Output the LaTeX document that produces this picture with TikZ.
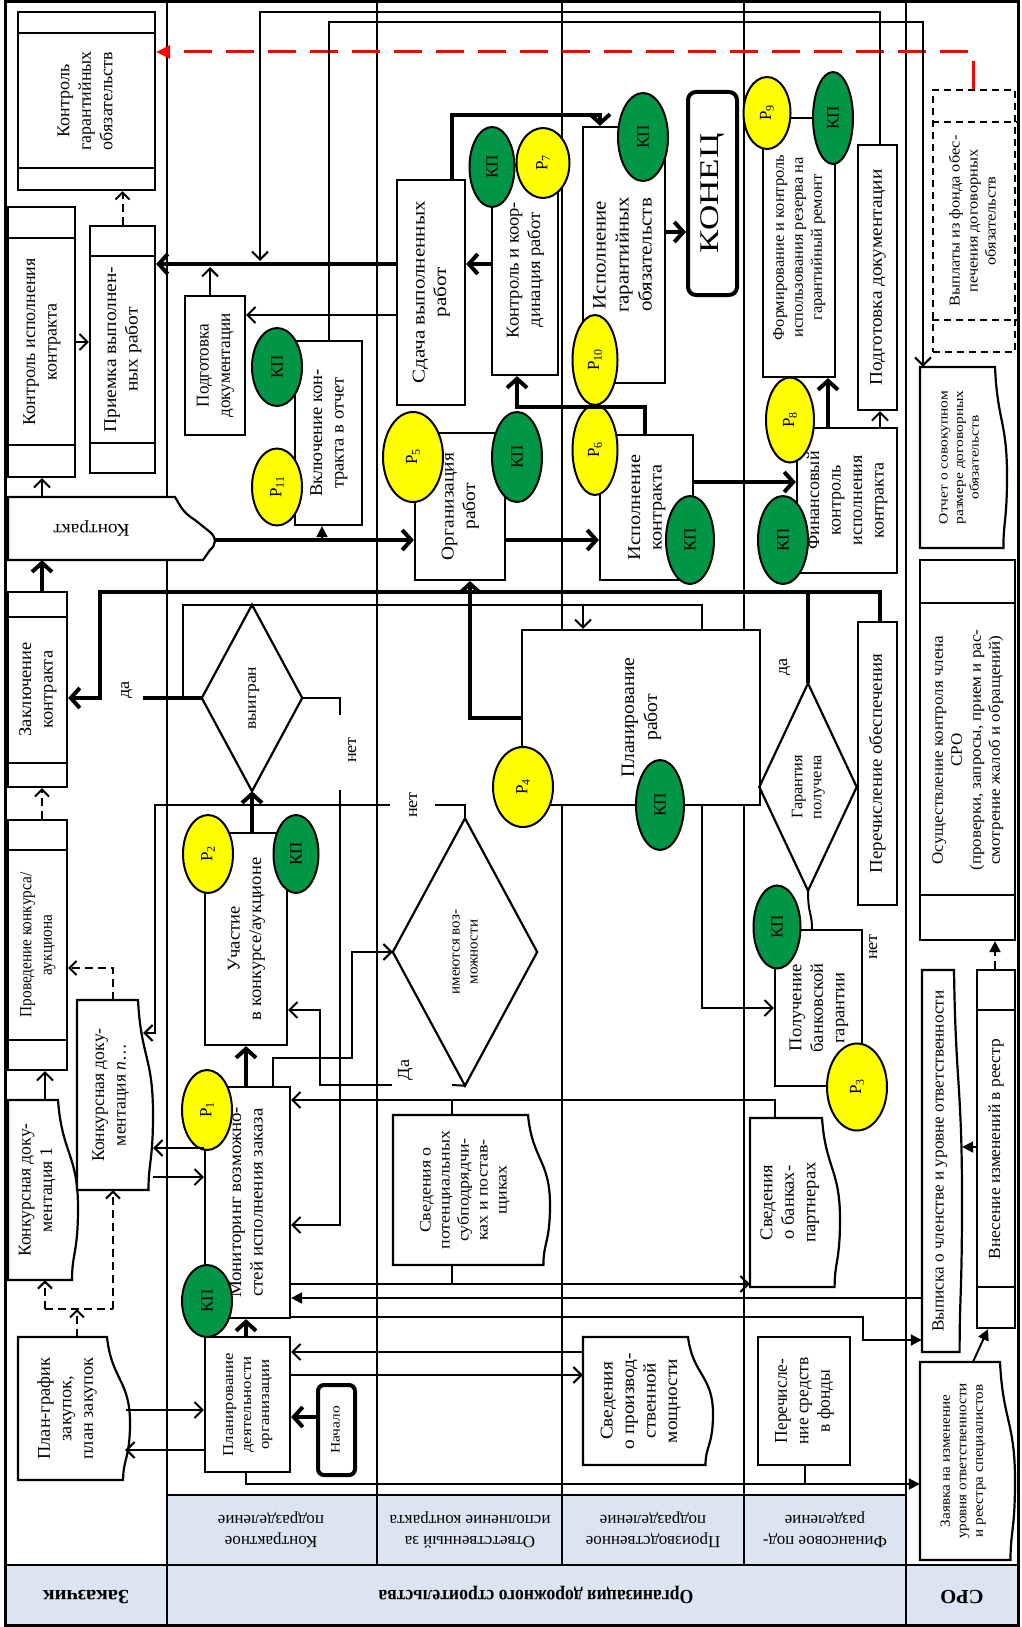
\documentclass[tikz,border=0pt]{standalone}
\usepackage{fontspec}
\setmainfont{Liberation Serif}
\usetikzlibrary{arrows.meta,calc,shapes.geometric}
\definecolor{hdr}{RGB}{219,229,241}
\definecolor{kpgreen}{RGB}{0,150,70}
\definecolor{pyellow}{RGB}{255,255,0}
\def\zs{1.0}
\newcommand\rt[1]{\rotatebox{90}{\scalebox{\zs}[1]{\begin{tabular}{@{}c@{}}#1\end{tabular}}}}
\newcommand\rtf[1]{\rotatebox{180}{\scalebox{\zs}[1]{\begin{tabular}{@{}c@{}}#1\end{tabular}}}}
% name, x1,y1,x2,y2, style, text
\newcommand\bx[7]{%
  \pgfmathsetmacro\zW{#4-#2}\pgfmathsetmacro\zH{#5-#3}%
  \pgfmathsetmacro\zX{(#2+#4)/2}\pgfmathsetmacro\zY{(#3+#5)/2}%
  \node[box,#6,minimum width=\zW pt,minimum height=\zH pt] (#1) at (\zX,\zY) {\rt{#7}};}
% name, x1,y1,x2,y2, s1,s2, style, text
\newcommand\stripbox[9]{\bx{#1}{#2}{#3}{#4}{#5}{#8}{#9}%
  \draw[line width=2.2pt] (#1.west |- 0,#6) -- (#1.east |- 0,#6) (#1.west |- 0,#7) -- (#1.east |- 0,#7);}
% name, x1,y1,x2,y2, d, style, text
\newcommand\docnode[8]{%
  \pgfmathsetmacro\zA{#4-#6}\pgfmathsetmacro\zH{#5-#3}%
  \pgfmathsetmacro\zB{#3+0.3*\zH}\pgfmathsetmacro\zC{#3+0.6*\zH}%
  \pgfmathsetmacro\zD{#3+0.85*\zH}\pgfmathsetmacro\zE{#4-0.3*#6}%
  \pgfmathsetmacro\zF{#4-0.8*#6}\pgfmathsetmacro\zS{0.6*#6}%
  \pgfmathsetmacro\zW{#4-#2}%
  \pgfmathsetmacro\zX{(#2+#4)/2}\pgfmathsetmacro\zY{(#3+#5)/2}%
  \filldraw[fill=white,line width=2.2pt] (#2,#3) -- (\zA,#3) .. controls (\zF,\zB) and (#4,\zB) .. (#4,\zC) .. controls (#4,\zD) and (\zE,\zD) .. (\zE,#5) -- (#2,#5) -- cycle;
  \node[txt,#7,minimum width=\zW pt,minimum height=\zH pt] (#1) at (\zX,\zY) {\rt{#8}\hspace*{\zS pt}};}
% name, cx, cy, w, h, style, text
\newcommand\dia[7]{%
  \node[txt,#6,minimum width=#4pt,minimum height=#5pt] (#1) at (#2,#3) {\rt{#7}};
  \draw[line width=2.2pt] (#1.north) -- (#1.east) -- (#1.south) -- (#1.west) -- cycle;}
\newcommand\kp[5]{\node[kpov,minimum width=#4pt,minimum height=#5pt] (#1) at (#2,#3) {\rotatebox{90}{КП}};}
\newcommand\rp[6]{\node[rpov,minimum width=#4pt,minimum height=#5pt] (#1) at (#2,#3) {\rotatebox{90}{Р\textsubscript{#6}}};}
\begin{document}
\begin{tikzpicture}[x=1pt,y=-1pt,
  sx/.code={\def\zs{#1}},
  ln/.style={line width=2pt},
  box/.style={draw,line width=2.2pt,fill=white,inner sep=0pt,align=center},
  txt/.style={inner sep=0pt,align=center},
  f13/.style={font=\fontsize{13}{15.5}\selectfont},
  f14/.style={font=\fontsize{14}{16.5}\selectfont},
  f15/.style={font=\fontsize{15}{18}\selectfont},
  f16/.style={font=\fontsize{16}{19}\selectfont},
  f17/.style={font=\fontsize{17}{20.5}\selectfont},
  f18/.style={font=\fontsize{18}{21.5}\selectfont},
  f19/.style={font=\fontsize{19}{23}\selectfont},
  f20/.style={font=\fontsize{20}{24}\selectfont},
  f27/.style={font=\fontsize{27}{30}\selectfont},
  kpov/.style={ellipse,draw,line width=2pt,fill=kpgreen,inner sep=0pt,font=\fontsize{17}{19}\selectfont},
  rpov/.style={ellipse,draw,line width=2pt,fill=pyellow,inner sep=0pt,font=\fontsize{17}{19}\selectfont},
  arr/.style={ln,-{Straight Barb[length=8pt,width=16pt,line width=2pt]}},
  tarr/.style={line width=4.5pt,-{Straight Barb[length=9pt,width=20pt,line width=4pt]}},
  thk/.style={line width=4.5pt},
  farr/.style={ln,-{Triangle[length=11pt,width=11pt]}},
  darr/.style={ln,dash pattern=on 8pt off 5pt,-{Straight Barb[length=7pt,width=14pt,line width=2pt]}},
  dln/.style={ln,dash pattern=on 8pt off 5pt},
  redd/.style={draw=red,line width=3pt,dash pattern=on 28pt off 14pt,-{Triangle[length=14pt,width=13pt]}},
  lbl/.style={inner sep=0pt,font=\fontsize{17}{20}\selectfont}
]
\useasboundingbox (0,0) rectangle (1021,1627);
\fill[white] (0,0) rectangle (1021,1627);
\fill[hdr] (167,1495) rectangle (906,1565);
\fill[hdr] (5,1565) rectangle (1018,1625);
\draw[line width=2.5pt] (167,2) -- (167,1625) (377,2) -- (377,1565) (562,2) -- (562,1565)
  (744,2) -- (744,1565) (906,2) -- (906,1625) (167,1495) -- (906,1495) (5,1565) -- (1018,1565);
\draw[line width=3pt] (5,2) rectangle (1018,1625);

% headers
\node[txt,f17,sx=1.0] (hA) at (271,1530) {\rtf{Контрактное\\подразделение}};
\node[txt,f17,sx=1.0] (hB) at (470,1530) {\rtf{Ответственный за\\исполнение контракта}};
\node[txt,f17,sx=1.0] (hC) at (653,1530) {\rtf{Производственное\\подразделение}};
\node[txt,f17,sx=1.0] (hD) at (825,1530) {\rtf{Финансовое под-\\разделение}};
\node[txt,f20,sx=1.03] (hE) at (86,1595) {\rtf{\textbf{Заказчик}}};
\node[txt,f20,sx=0.88] (hF) at (536,1595) {\rtf{\textbf{Организация дорожного строительства}}};
\node[txt,f20,sx=1.03] (hG) at (962,1595) {\rtf{\textbf{СРО}}};

% ---- Заказчик
\stripbox{kgo}{18}{12}{155}{190}{33}{168}{f18,sx=1.0}{Контроль\\гарантийных\\обязательств}
\stripbox{kik}{8}{207}{75}{477}{238}{445}{f18,sx=1.0}{Контроль исполнения\\контракта}
\stripbox{prw}{90}{226}{155}{473}{256}{443}{f18,sx=1.08}{Приемка выполнен-\\ных работ}
\filldraw[fill=white,line width=2.2pt] (8,497) -- (175,497) .. controls (180,505) and (182,512) .. (195,520) -- (210,532) .. controls (217,538) and (216,545) .. (210,550) -- (203,560) -- (8,560) -- cycle;
\node[txt,f18,sx=1.07,minimum width=207pt,minimum height=63pt] (kontrakt) at (111.5,528.5) {\rtf{Контракт}\hspace*{40pt}};
\stripbox{zk}{8}{592}{67}{787}{617}{763}{f18,sx=1.02}{Заключение\\контракта}
\stripbox{pk}{8}{820}{67}{1070}{850}{1040}{f17,sx=0.9}{Проведение конкурса/\\аукциона}
\docnode{kdone}{8}{1100}{78}{1280}{20}{f18,sx=0.98}{Конкурсная доку-\\ментация 1}
\docnode{kdn}{77}{1000}{153}{1190}{15}{f18,sx=0.98}{Конкурсная доку-\\ментация \textit{n}…}
\docnode{pg}{18}{1337}{130}{1480}{23}{f18,sx=1.02}{План-график\\закупок,\\план закупок}

% ---- Контрактное подразделение
\bx{pdocA}{185}{296}{245}{435}{f18,sx=0.95}{Подготовка\\документации}
\bx{vkl}{295}{341}{362}{525}{f18,sx=1.03}{Включение кон-\\тракта в отчет}
\dia{vyigran}{252}{698}{100}{186}{f16,sx=1.1}{выигран}
\bx{uch}{205}{833}{287}{1045}{f18,sx=1.03}{Участие\\в конкурсе/аукционе}
\bx{mon}{205}{1087}{290}{1318}{f18,sx=1.05}{Мониторинг возможно-\\стей исполнения заказа}
\bx{plan}{205}{1337}{290}{1472}{f15,sx=1.12}{Планирование\\деятельности\\организации}
\bx{nach}{318}{1385}{355}{1475}{f13,sx=1.19,rounded corners=6pt,line width=4pt}{Начало}

% ---- Ответственный
\bx{sdacha}{397}{180}{465}{405}{f18,sx=1.17}{Сдача выполненных\\работ}
\bx{org}{415}{433}{505}{580}{f18,sx=1.08}{Организация\\работ}
\dia{imeyut}{465}{952}{144}{267}{f15,sx=1.0}{имеются воз-\\можности}
\docnode{svsub}{393}{1115}{550}{1265}{22}{f16,sx=1.12}{Сведения о\\потенциальных\\субподрядчи-\\ках и постав-\\щиках}

% ---- Производственное
\bx{kk}{492}{165}{558}{375}{f18,sx=1.03}{Контроль и коор-\\динация работ}
\bx{ispg}{583}{127}{665}{383}{f19,sx=1.1}{Исполнение\\гарантийных\\обязательств}
\bx{konec}{688}{92}{737}{295}{f27,sx=1.3,rounded corners=8pt,line width=4pt}{КОНЕЦ}
\bx{ispk}{600}{435}{693}{580}{f18,sx=1.13}{Исполнение\\контракта}
\bx{planr}{522}{630}{760}{805}{f19,sx=1.03}{Планирование\\работ}
\docnode{svpm}{583}{1337}{713}{1465}{25}{f18,sx=1.07}{Сведения\\о производ-\\ственной\\мощности}

% ---- Финансовое
\bx{form}{763}{118}{835}{377}{f16,sx=1.03}{Формирование и контроль\\использования резерва на\\гарантийный ремонт}
\bx{pdocB}{858}{145}{897}{410}{f18,sx=1.07}{Подготовка документации}
\bx{fin}{797}{428}{897}{573}{f18,sx=1.0}{Финансовый\\контроль\\исполнения\\контракта}
\dia{garant}{808}{787}{97}{207}{f16,sx=1.02}{Гарантия\\получена}
\bx{perob}{858}{622}{897}{905}{f18,sx=1.05}{Перечисление обеспечения}
\bx{polbg}{775}{930}{862}{1086}{f18,sx=1.03}{Получение\\банковской\\гарантии}
\docnode{svbank}{750}{1118}{840}{1287}{18}{f18,sx=1.03}{Сведения\\о банках-\\партнерах}
\bx{perech}{758}{1337}{850}{1465}{f18,sx=0.97}{Перечисле-\\ние средств\\в фонды}

% ---- СРО
\bx{vypl}{933}{90}{1015}{352}{f15,sx=1.09,dash pattern=on 7pt off 5pt}{Выплаты из фонда обес-\\печения договорных\\обязательств}
\draw[line width=2.2pt,dash pattern=on 7pt off 5pt] (vypl.west |- 0,122) -- (vypl.east |- 0,122) (vypl.west |- 0,320) -- (vypl.east |- 0,320);
\docnode{otchet}{920}{367}{1007}{548}{12}{f13,sx=1.19}{Отчет о совокупном\\размере договорных\\обязательств}
\stripbox{osush}{920}{560}{1015}{940}{603}{895}{f16,sx=1.06}{Осуществление контроля члена\\СРО\\(проверки, запросы, прием и рас-\\смотрение жалоб и обращений)}
\docnode{vypiska}{922}{970}{962}{1352}{8}{f17,sx=1.01}{Выписка о членстве и уровне ответственности}
\stripbox{vnes}{977}{970}{1015}{1328}{1010}{1287}{f17,sx=1.02}{Внесение изменений в реестр}
\docnode{zayavka}{920}{1362}{1015}{1560}{15}{f14,sx=1.08}{Заявка на изменение\\уровня ответственности\\и реестра специалистов}

% ---- ovals
\kp{kpA}{277}{367}{50}{78}
\rp{pA}{277}{487}{50}{77}{11}
\rp{pB}{208}{854}{50}{78}{2}
\kp{kpB}{296}{854}{45}{78}
\rp{pC}{207}{1110}{50}{80}{1}
\kp{kpC}{207}{1301}{50}{72}
\rp{pD}{413}{457}{60}{90}{5}
\kp{kpD}{517}{457}{50}{90}
\kp{kpE}{492}{167}{45}{80}
\rp{pE}{543}{163}{53}{70}{7}
\kp{kpF}{643}{137}{50}{88}
\rp{pF}{595}{360}{45}{90}{10}
\rp{pG}{595}{450}{45}{90}{6}
\kp{kpG}{690}{540}{48}{88}
\rp{pH}{523}{787}{60}{80}{4}
\kp{kpH}{660}{805}{48}{90}
\rp{pI}{767}{113}{47}{72}{9}
\kp{kpI}{833}{118}{40}{92}
\rp{pJ}{790}{420}{48}{85}{8}
\kp{kpJ}{783}{540}{50}{88}
\kp{kpK}{777}{927}{47}{83}
\rp{pK}{857}{1087}{60}{87}{3}

% ---- connectors
\draw[redd] (vypl.north -| 973,0) |- (kgo.east |- 0,52);
\draw[darr] (prw.north) -- (prw.north |- kgo.south);
\draw[arr] (kik.east |- 0,342) -- (prw.west |- 0,342);
\draw[tarr] (sdacha.west |- 0,264) -- (prw.east |- 0,264);
\draw[arr] (pdocB.north -| 880,0) |- (260,12) -- (260,261);
\draw[arr] (vkl.north) |- (923,22) -- (otchet.north -| 923,0);
\draw[arr] (pdocA.north -| 210,0) -- (210,267);
\draw[arr] (sdacha.west |- 0,315) -- (pdocA.east |- 0,315);
\draw[tarr] (sdacha.north -| 452,0) |- (600,115) -- (ispg.north -| 600,0);
\draw[tarr] (kk.west |- 0,264) -- (sdacha.east |- 0,264);
\draw[tarr] (ispg.east |- 0,232) -- (konec.west |- 0,232);
\draw[tarr] (ispk.north -| 645,0) |- (517,407) -- (kk.south -| 517,0);
\draw[tarr] (fin.north -| 828,0) -- (form.south -| 828,0);
\draw[arr] (fin.north -| 880,0) -- (pdocB.south -| 880,0);
\draw[arr] (kontrakt.north -| 42,0) -- (kik.south -| 42,0);
\draw[tarr] (zk.north -| 42,0) -- (kontrakt.south -| 42,0);
\draw[tarr] (kontrakt.east |- 0,540) -- (org.west |- 0,540);
\draw[farr] (322,540) -- (vkl.south -| 322,0);
\draw[tarr] (org.east |- 0,540) -- (ispk.west |- 0,540);
\draw[tarr] (ispk.east |- 0,482) -- (fin.west |- 0,482);
\draw[tarr] (planr.west |- 0,718) -| (org.south -| 470,0);
\draw[tarr] (perob.north -| 880,0) |- (100,592) |- (zk.east |- 0,698);
\draw[thk] (garant.north) -- (garant.north |- 0,592);
\draw[thk] (vyigran.west) -- (143,698);
\draw[ln] (183,698) |- (702,605) -- (planr.north -| 702,0);
\draw[arr] (583,605) -- (planr.north -| 583,0);
\draw[tarr] (vyigran.south |- uch.north) -- (vyigran.south);
\draw[ln] (vyigran.east) -| (340,715);
\draw[arr] (340,790) |- (mon.east |- 0,1225);
\draw[ln] (imeyut.north) |- (435,805);
\draw[arr] (390,805) -| (155,1033) -- ($(kdn.east |- 0,1033)+(-10,0)$);
\draw[ln] (imeyut.south) -- (452,1085);
\draw[arr] (392,1085) -| (320,1010) -- (uch.east |- 0,1010);
\draw[arr] (mon.north -| 273,0) |- (352,1058) |- (imeyut.west);
\draw[tarr] (mon.north -| 246,0) -- (uch.south -| 246,0);
\draw[arr] (kdn.east |- 0,1177) -- (mon.west |- 0,1177);
\draw[arr] (mon.west |- 0,1148) -- (kdn.east |- 0,1148);
\draw[darr] (kdn.north -| 113,0) |- (pk.east |- 0,968);
\draw[arr] (kdone.north -| 45,0) -- (pk.south -| 45,0);
\draw[darr] (pk.north -| 42,0) -- (zk.south -| 42,0);
\draw[darr] (pg.north -| 77,0) -- (77,1309);
\draw[dln] (45,1309) -- (113,1309);
\draw[darr] (45,1309) -- (kdone.south -| 45,0);
\draw[darr] (113,1309) -- (kdn.south -| 113,0);
\draw[arr] ($(pg.east |- 0,1410)+(-4,0)$) -- (plan.west |- 0,1410);
\draw[arr] (plan.west |- 0,1450) -- ($(pg.east |- 0,1450)+(-5,0)$);
\draw[tarr] (plan.north -| 246,0) -- (mon.south -| 246,0);
\draw[tarr] (nach.west |- 0,1417) -- (plan.east |- 0,1417);
\draw[arr] (svpm.west |- 0,1352) -- (plan.east |- 0,1352);
\draw[arr] (plan.east |- 0,1375) -- (svpm.west |- 0,1375);
\draw[farr] (plan.south -| 246,0) |- (zayavka.west |- 0,1484);
\draw[ln] (perech.south -| 805,0) -- (805,1484);
\draw[arr] (svbank.north -| 775,0) |- (mon.east |- 0,1100);
\draw[ln] (svsub.north -| 452,0) -- (452,1100);
\draw[arr] (mon.east |- 0,1284) -- (svbank.west |- 0,1284);
\draw[ln] (svsub.south -| 452,0) -- (452,1284);
\draw[farr] (vypiska.west |- 0,1298) -- (mon.east |- 0,1298);
\draw[farr] (mon.east |- 0,1317) -| (863,1340) -- (vypiska.west |- 0,1340);
\draw[farr] (vnes.west |- 0,1147) -- (vypiska.east |- 0,1147);
\draw[farr] (zayavka.north -| 973,0) -- (vnes.south -| 988,0);
\draw[farr,dash pattern=on 8pt off 5pt] (vnes.north -| 995,0) -- (osush.south -| 995,0);
\draw[arr] (planr.south -| 702,0) |- (polbg.west |- 0,1008);
\draw[ln] (garant.south) .. controls (808,915) and (812,912) .. (polbg.north -| 812,0);

% ---- labels
\node[lbl,sx=1.07] (lA) at (125,690) {\rt{да}};
\node[lbl,sx=1.07] (lB) at (352,750) {\rt{нет}};
\node[lbl,sx=1.07] (lC) at (413,805) {\rt{нет}};
\node[lbl,sx=1.07] (lD) at (405,1070) {\rt{Да}};
\node[lbl,sx=1.07] (lE) at (783,667) {\rt{да}};
\node[lbl,sx=1.07] (lF) at (873,947) {\rt{нет}};
\end{tikzpicture}
\end{document}
